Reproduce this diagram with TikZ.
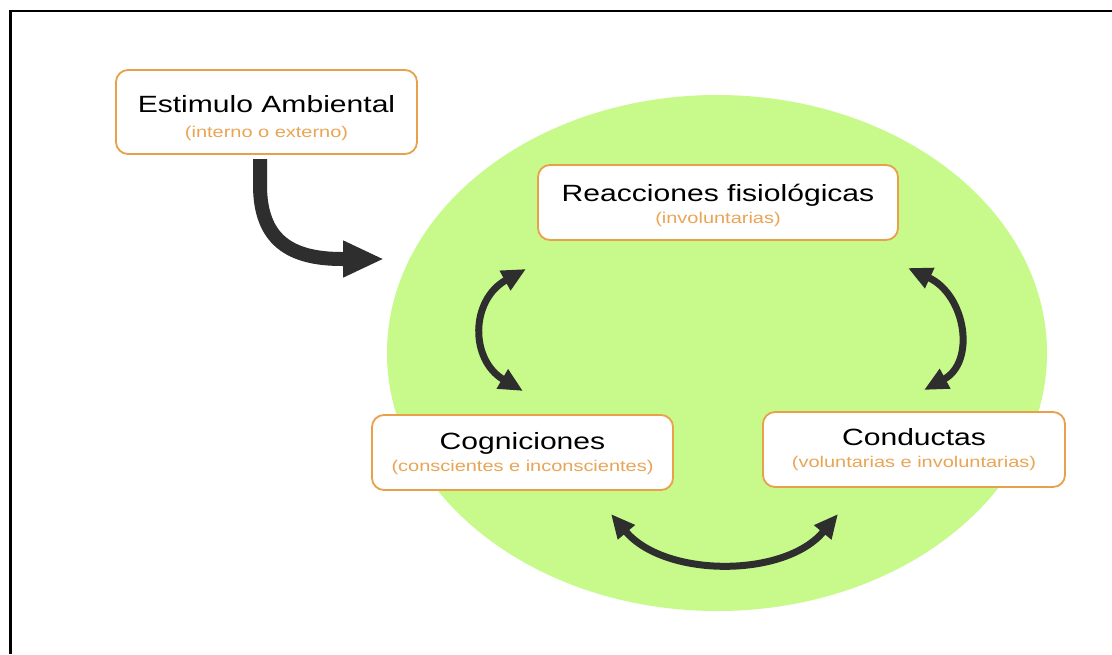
\documentclass[tikz,border=0pt]{standalone}
\usepackage{fontspec}
\setmainfont[FakeStretch=1.28]{Liberation Sans}
\usetikzlibrary{arrows.meta}
\definecolor{leaf}{RGB}{199,250,139}
\definecolor{boxline}{RGB}{232,160,75}
\definecolor{subtxt}{RGB}{233,165,85}
\definecolor{arrowc}{RGB}{46,46,46}
\newcommand\ttltx[1]{{\fontsize{23.5}{22}\selectfont #1}}
\newcommand\subtx[1]{\textcolor{subtxt}{#1}}
\tikzset{
  box/.style={draw=boxline, line width=1.8pt, fill=white, rounded corners=12pt,
    align=center, inner sep=0pt, font=\fontsize{15.6}{22}\selectfont, text height=50pt},
  widebox/.style={box, font=\fontsize{15.6}{25}\selectfont, text height=60pt},
  bigarrow/.style={draw=arrowc, line width=14pt, -{Triangle[length=41pt,width=34pt]}},
  dblarrow/.style={draw=arrowc, line width=7pt,
    {Triangle[length=24pt,width=21pt]}-{Triangle[length=24pt,width=21pt]}},
  frameline/.style={draw=black, line width=2.5pt}
}
\begin{document}
\begin{tikzpicture}[x=1pt,y=-1pt]
  \useasboundingbox (0,0) rectangle (1112,654);
  \fill[white] (0,0) rectangle (1112,654);
  % frame
  \draw[frameline] (10.5,654) -- (10.5,11) -- (1112,11);
  % green disc
  \fill[leaf] (717,353) ellipse [x radius=330, y radius=258];
  % boxes
  \node[widebox, text depth=8.6pt, minimum width=301pt, minimum height=84pt] (est) at (266.5,112)
    {\ttltx{Estimulo Ambiental}\\\subtx{(interno o externo)}};
  \node[box, text depth=7.6pt, minimum width=360pt, minimum height=75pt] (rea) at (718,202.5)
    {\ttltx{Reacciones fisiológicas}\\\subtx{(involuntarias)}};
  \node[box, text depth=13pt, minimum width=301pt, minimum height=75pt] (cog) at (522.5,452.5)
    {\ttltx{Cogniciones}\\\subtx{(conscientes e inconscientes)}};
  \node[box, text depth=15pt, minimum width=302pt, minimum height=75pt] (con) at (914,449.5)
    {\ttltx{Conductas}\\\subtx{(voluntarias e involuntarias)}};
  % connector end points
  \coordinate (estout) at (260,159);
  \coordinate (estin) at (384,259);
  \coordinate (lt) at (526,269);
  \coordinate (lb) at (523,391);
  \coordinate (rt) at (908,268);
  \coordinate (rb) at (924,390);
  \coordinate (bl) at (611,514);
  \coordinate (br) at (838,514);
  % arrows
  \draw[bigarrow] (estout) -- (260,185) .. controls (260,240) and (290,259) .. (342,259) -- (estin);
  \draw[dblarrow] (lt) .. controls (470,300) and (470,360) .. (lb);
  \draw[dblarrow] (rt) .. controls (966,295) and (976,362) .. (rb);
  \draw[dblarrow] (bl) .. controls (665,578) and (785,578) .. (br);
\end{tikzpicture}
\end{document}
